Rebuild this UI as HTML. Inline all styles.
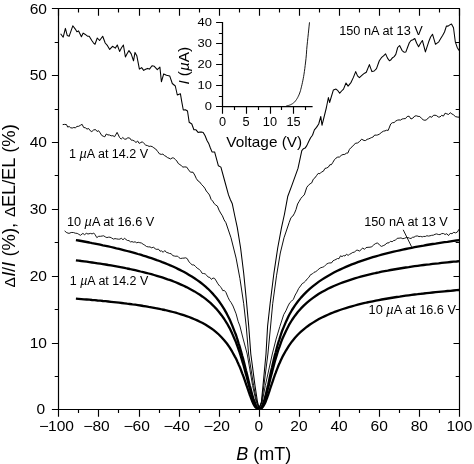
<!DOCTYPE html>
<html lang="en"><head><meta charset="utf-8"><title>Magnetic field effect chart</title>
<style>html,body{margin:0;padding:0;background:#fff;overflow:hidden}svg{display:block}</style></head>
<body>
<svg width="474" height="464" viewBox="0 0 474 464">
<rect x="0" y="0" width="474" height="464" fill="#fff"/>
<g fill="none" stroke="#000" stroke-linejoin="round" stroke-linecap="butt">
<path d="M60.6,33.7 L63.2,37.2 L65.4,28.4 L67.2,35.4 L69.2,36.2 L72.8,25.8 L75.3,29.1 L76.9,31.8 L78.6,30.9 L81.4,36.7 L83.2,33.1 L84.9,34.2 L87.5,36.2 L89.2,36.2 L91.8,40.5 L93.4,42.8 L95.0,44.3 L97.3,38.0 L99.6,40.5 L102.7,36.2 L105.2,43.0 L107.5,45.7 L109.7,49.4 L112.5,46.3 L115.3,48.1 L117.3,45.0 L119.6,51.4 L121.5,47.8 L123.4,45.0 L125.4,57.0 L127.2,53.6 L129.0,50.6 L131.2,53.9 L133.5,60.8 L135.0,52.4 L136.8,55.7 L139.4,69.1 L141.6,67.6 L143.7,70.4 L145.6,69.2 L147.5,68.4 L149.5,69.1 L152.0,65.8 L154.3,66.3 L157.3,69.6 L159.9,67.1 L161.4,81.8 L163.7,73.9 L166.5,75.2 L169.7,75.9 L172.3,83.5 L175.3,86.0 L177.3,95.0 L180.4,93.7 L181.6,100.8 L183.3,110.0 L185.4,109.7 L187.5,111.0 L189.2,122.3 L191.8,124.0 L193.9,129.8 L196.0,129.8 L198.1,132.4 L199.8,132.1 L201.5,132.1 L203.2,132.4 L205.1,135.8 L207.0,140.5 L208.7,143.4 L210.3,147.7 L212.0,151.9 L214.6,151.9 L218.4,165.8 L220.9,167.1 L224.7,181.0 L228.5,194.9 L230.4,199.8 L232.3,203.8 L234.8,216.0 L237.3,227.7 L240.6,248.0 L243.7,273.3 L246.2,298.6 L248.7,326.0 L250.8,354.0 L255.0,385.6 L257.5,402.0 L259.2,408.2 L261.4,402.0 L263.0,385.6 L266.0,354.0 L267.6,326.0 L270.1,303.7 L273.9,273.3 L277.7,248.0 L281.5,227.7 L284.5,214.0 L287.8,196.2 L291.6,186.1 L298.0,168.4 L301.8,150.6 L303.5,148.7 L305.1,148.1 L306.8,145.6 L308.7,141.5 L310.6,137.8 L312.5,135.2 L314.4,129.9 L316.5,127.4 L318.7,124.0 L320.8,116.5 L322.0,125.3 L326.3,108.0 L328.4,97.5 L329.6,102.5 L333.4,89.9 L336.0,89.1 L337.9,90.7 L339.7,93.2 L341.6,91.0 L343.5,89.1 L346.0,83.0 L348.1,86.1 L351.1,82.3 L353.4,77.4 L355.7,71.6 L357.5,75.9 L359.4,77.6 L361.3,75.9 L363.0,74.4 L364.6,73.2 L366.3,72.2 L369.4,64.6 L371.9,71.6 L374.2,71.0 L376.5,68.6 L379.3,60.8 L381.4,57.7 L383.5,55.9 L385.6,53.9 L387.5,58.1 L389.4,60.8 L391.0,59.7 L392.6,57.7 L394.2,56.6 L395.8,54.4 L397.7,47.5 L399.6,45.6 L402.1,50.6 L404.0,52.2 L405.9,51.9 L407.6,47.2 L409.3,42.8 L411.0,40.5 L412.9,39.7 L414.8,38.5 L416.7,43.3 L418.6,46.8 L420.5,43.2 L422.4,40.5 L425.4,51.9 L428.7,41.8 L430.6,37.0 L432.5,34.2 L435.5,44.3 L437.1,43.1 L438.8,41.8 L440.7,38.6 L442.6,35.4 L444.5,32.0 L446.4,26.1 L448.1,26.1 L449.8,24.9 L451.5,24.0 L453.5,27.8 L455.3,41.8 L457.1,47.2 L459.0,50.6" stroke-width="1.05" stroke="#000"/>
<path d="M62.7,124.6 L64.6,124.4 L66.5,124.6 L67.7,127.1 L69.2,126.5 L70.7,127.8 L72.3,128.0 L73.8,127.5 L75.3,127.8 L77.0,126.4 L78.7,126.3 L80.4,125.3 L82.1,124.3 L83.7,127.5 L85.4,127.8 L87.0,129.1 L88.6,128.5 L90.2,130.7 L91.8,131.6 L93.7,129.9 L95.6,129.6 L97.1,131.5 L98.6,130.7 L100.2,132.9 L101.7,135.4 L103.2,136.2 L104.8,136.8 L106.3,134.0 L107.9,134.9 L109.5,135.0 L111.2,135.8 L112.9,135.7 L114.6,136.7 L117.1,132.4 L119.6,137.5 L121.2,139.1 L122.8,137.5 L124.4,139.0 L126.0,139.2 L127.8,137.8 L129.7,138.0 L131.3,140.2 L132.8,140.2 L134.4,141.1 L136.0,142.5 L137.6,141.0 L139.2,143.4 L140.8,142.5 L142.4,141.8 L144.1,143.6 L145.8,145.2 L147.5,145.6 L149.1,146.4 L150.7,146.2 L152.2,146.6 L153.8,147.8 L155.7,149.0 L157.6,151.4 L159.5,153.9 L161.4,154.4 L162.9,154.1 L164.4,155.5 L166.0,156.4 L167.5,157.6 L169.0,158.2 L170.6,159.0 L172.2,157.9 L173.7,157.9 L175.3,159.5 L176.8,161.0 L178.3,163.5 L179.9,164.6 L181.4,165.7 L182.9,167.1 L184.8,166.9 L186.7,167.1 L188.6,169.9 L190.5,172.2 L193.0,172.2 L194.7,175.0 L196.4,178.7 L198.1,181.0 L199.8,182.1 L201.5,184.5 L203.2,186.1 L204.8,188.2 L206.3,191.0 L207.9,192.9 L209.5,195.0 L211.1,199.4 L212.7,201.1 L214.2,203.6 L215.8,205.0 L217.4,206.1 L219.0,210.1 L220.6,213.0 L222.4,215.8 L224.1,219.9 L225.9,222.7 L231.0,237.8 L236.1,258.1 L239.9,278.4 L243.7,303.7 L246.2,326.0 L248.6,354.0 L253.6,385.6 L256.8,402.0 L259.0,408.2 L261.7,402.0 L263.9,385.6 L267.9,354.0 L270.6,326.0 L272.7,303.7 L276.5,275.8 L280.3,253.0 L284.0,237.8 L289.1,222.7 L291.0,217.6 L292.9,216.0 L294.5,213.2 L296.0,209.5 L297.6,204.0 L299.2,201.3 L300.9,198.4 L302.6,196.4 L304.3,194.9 L306.8,187.3 L308.4,185.3 L310.1,183.8 L311.7,182.9 L313.3,179.2 L314.9,177.9 L316.6,175.5 L318.2,173.4 L319.9,173.7 L321.6,171.9 L323.3,171.3 L325.0,168.4 L326.7,168.0 L328.4,167.1 L329.9,164.7 L331.4,164.7 L332.9,162.3 L334.4,159.8 L335.9,158.2 L337.7,157.1 L339.5,157.0 L341.2,155.4 L343.0,154.5 L344.8,154.4 L346.3,153.2 L347.8,153.1 L349.4,149.5 L350.9,147.7 L352.4,146.6 L354.1,144.5 L355.8,143.2 L357.5,143.0 L359.6,141.5 L361.6,139.2 L364.1,140.5 L365.6,140.5 L367.1,139.3 L368.7,138.9 L370.2,138.2 L371.7,137.5 L373.2,136.9 L374.7,135.0 L376.3,135.2 L377.8,134.9 L379.3,134.2 L381.8,132.2 L383.4,131.2 L385.0,130.9 L386.6,130.2 L388.2,130.4 L390.7,124.0 L392.4,122.7 L394.1,122.6 L395.8,121.0 L397.4,120.2 L399.0,119.9 L400.5,120.1 L402.1,119.0 L403.8,118.7 L405.5,118.6 L407.2,116.5 L409.1,116.2 L411.0,119.0 L412.9,118.1 L414.8,116.0 L416.5,115.8 L418.1,116.4 L419.8,116.5 L421.5,118.4 L423.2,119.8 L424.9,120.3 L426.6,119.8 L428.3,117.9 L430.0,116.5 L431.7,117.3 L433.3,115.4 L435.0,115.2 L436.7,115.7 L438.3,117.0 L440.0,117.0 L441.7,115.3 L443.4,116.1 L445.1,113.2 L446.8,113.8 L448.5,114.5 L450.2,112.7 L451.9,113.9 L453.6,114.9 L455.3,116.5 L457.1,117.0 L459.0,117.2" stroke-width="0.95" stroke="#000"/>
<path d="M64.6,230.9 L66.8,232.7 L69.0,233.4 L71.2,232.5 L73.4,232.5 L75.3,233.2 L77.2,233.4 L78.8,234.3 L80.4,235.3 L82.9,233.4 L84.6,234.7 L86.3,233.3 L88.0,234.0 L90.5,233.4 L92.1,233.9 L93.7,233.0 L95.2,234.8 L96.8,237.6 L98.7,236.3 L100.6,236.3 L102.2,236.0 L103.7,235.8 L105.3,236.9 L106.9,237.6 L108.4,237.2 L110.0,237.2 L111.7,238.0 L113.4,239.1 L115.0,238.6 L116.7,238.9 L118.4,239.2 L119.9,239.1 L121.4,238.2 L123.0,239.9 L124.5,238.2 L126.0,239.5 L127.5,240.5 L129.0,240.6 L130.5,241.9 L132.0,241.6 L133.5,242.2 L135.1,241.8 L136.7,242.8 L138.2,242.3 L139.8,242.7 L141.4,243.0 L143.1,244.2 L144.8,245.2 L146.5,246.5 L148.3,246.9 L150.0,246.9 L151.8,247.9 L153.5,247.0 L155.3,249.0 L156.9,249.4 L158.4,249.1 L160.0,251.2 L161.6,250.9 L163.2,252.3 L164.8,250.5 L166.4,252.4 L168.0,252.8 L169.6,253.5 L171.2,253.7 L172.7,255.6 L174.3,256.0 L175.9,256.3 L177.4,256.0 L179.0,257.7 L180.6,258.5 L182.3,258.2 L184.0,258.1 L185.7,257.8 L187.3,258.7 L188.9,261.8 L190.5,263.2 L192.2,265.0 L193.9,264.9 L195.6,266.5 L197.2,268.2 L198.9,269.1 L200.6,270.8 L202.1,273.3 L203.6,273.5 L205.2,273.9 L206.7,275.3 L208.2,277.1 L209.8,277.4 L211.4,279.4 L213.0,278.0 L214.6,278.4 L216.3,281.0 L217.9,283.8 L219.6,286.0 L221.2,287.5 L222.8,290.7 L224.3,290.4 L225.9,292.3 L228.0,297.3 L229.5,300.4 L231.0,302.4 L233.0,306.0 L236.1,313.8 L238.1,321.3 L239.9,326.0 L243.2,339.0 L247.2,354.0 L252.6,385.6 L256.2,402.0 L259.0,408.2 L260.6,405.2 L262.2,402.0 L265.3,385.6 L272.3,354.0 L276.1,339.0 L279.9,326.4 L283.7,314.7 L285.9,310.8 L288.0,306.0 L289.8,302.7 L291.6,301.1 L293.4,299.3 L295.2,295.0 L296.9,292.1 L298.7,288.4 L300.5,286.0 L302.2,283.6 L303.9,282.6 L305.6,281.0 L307.2,278.9 L308.9,277.3 L310.6,274.6 L312.3,274.0 L314.0,272.3 L315.7,271.7 L317.4,270.4 L319.1,268.8 L320.8,267.7 L322.3,267.3 L323.8,266.8 L325.4,265.2 L326.9,263.9 L328.4,263.2 L329.9,262.9 L331.4,263.0 L333.0,260.8 L334.5,260.1 L336.0,259.4 L337.5,258.5 L339.0,258.7 L340.5,255.8 L342.0,256.6 L343.5,255.6 L345.0,256.0 L346.5,254.2 L348.1,255.4 L349.6,254.3 L351.1,253.5 L352.8,252.4 L354.5,252.2 L356.2,250.3 L357.9,250.2 L359.6,251.2 L361.3,249.2 L362.9,248.0 L364.4,249.4 L366.0,247.6 L368.0,247.3 L370.0,247.2 L371.9,246.7 L373.8,244.8 L375.7,243.5 L377.6,242.9 L379.5,245.0 L381.4,246.4 L383.2,245.7 L385.0,244.8 L387.0,243.0 L389.0,242.8 L390.6,241.2 L392.1,241.8 L393.7,240.5 L395.3,240.3 L397.2,238.3 L399.1,238.2 L401.0,237.9 L402.8,238.7 L404.5,238.3 L406.2,237.6 L408.0,237.6 L409.5,238.2 L411.0,238.5 L412.5,237.3 L414.0,237.2 L415.6,236.2 L417.3,235.9 L419.0,236.6 L420.6,236.4 L422.2,236.9 L423.7,236.4 L425.3,236.5 L426.9,235.7 L428.4,236.1 L430.0,235.8 L431.7,235.3 L433.3,235.2 L435.0,234.3 L436.7,233.9 L438.3,234.5 L440.0,234.6 L441.7,233.6 L443.4,233.5 L445.1,234.5 L446.8,233.7 L448.5,235.6 L450.2,233.4 L452.0,233.7 L453.8,232.3 L455.6,232.9 L457.4,232.0 L459.0,229.2" stroke-width="0.9" stroke="#000"/>
<path d="M75.9,240.1 L78.6,240.5 L81.3,241.0 L84.0,241.5 L86.7,242.0 L89.4,242.5 L92.1,243.1 L94.8,243.6 L97.5,244.1 L100.2,244.7 L102.9,245.3 L105.6,245.8 L108.3,246.4 L111.0,247.0 L113.7,247.6 L116.4,248.3 L119.1,248.9 L121.8,249.6 L124.5,250.3 L127.1,251.0 L129.8,251.7 L132.5,252.4 L135.2,253.2 L137.9,254.0 L140.6,254.7 L143.3,255.6 L146.0,256.4 L148.7,257.3 L151.4,258.2 L154.1,259.1 L156.8,260.1 L159.5,261.0 L162.2,262.1 L164.9,263.1 L167.6,264.2 L170.3,265.4 L173.0,266.5 L175.7,267.8 L178.3,269.1 L181.0,270.4 L183.7,271.8 L186.4,273.3 L189.1,274.9 L191.8,276.5 L194.5,278.2 L197.2,280.1 L199.9,282.0 L202.6,284.2 L205.3,286.4 L208.0,288.8 L210.7,291.5 L213.4,294.4 L216.1,297.5 L218.8,301.0 L221.5,304.8 L224.2,309.1 L226.9,313.9 L229.6,319.3 L232.2,325.4 L234.9,332.3 L235.6,334.0 L236.2,335.7 L236.8,337.5 L237.4,339.4 L238.0,341.3 L238.6,343.3 L239.3,345.3 L239.9,347.3 L240.5,349.5 L241.1,351.6 L241.7,353.8 L242.3,356.1 L243.0,358.4 L243.6,360.7 L244.2,363.1 L244.8,365.6 L245.4,368.0 L246.0,370.5 L246.7,373.0 L247.3,375.5 L247.9,378.0 L248.5,380.5 L249.1,383.0 L249.7,385.5 L250.4,387.9 L251.0,390.3 L251.6,392.6 L252.2,394.8 L252.8,396.9 L253.4,398.9 L254.1,400.7 L254.7,402.4 L255.3,404.0 L255.9,405.4 L256.5,406.6 L257.1,407.6 L257.8,408.3 L258.4,408.6 L259.0,408.7 L259.6,408.7 L260.2,408.5 L260.9,408.1 L261.5,407.3 L262.1,406.2 L262.7,404.8 L263.3,403.2 L263.9,401.3 L264.6,399.3 L265.2,397.1 L265.8,394.7 L266.4,392.2 L267.0,389.6 L267.6,386.9 L268.3,384.2 L268.9,381.4 L269.5,378.6 L270.1,375.8 L270.7,373.0 L271.3,370.2 L272.0,367.5 L272.6,364.8 L273.2,362.2 L273.8,359.6 L274.4,357.1 L275.0,354.6 L275.7,352.2 L276.3,349.9 L276.9,347.6 L277.5,345.4 L278.1,343.3 L278.7,341.3 L279.4,339.3 L280.0,337.3 L280.6,335.5 L281.2,333.7 L281.8,331.9 L282.4,330.2 L283.1,328.6 L286.1,321.4 L289.0,315.3 L292.0,310.0 L295.0,305.4 L298.0,301.3 L301.0,297.6 L304.0,294.4 L307.0,291.4 L310.0,288.6 L313.0,286.1 L316.0,283.8 L318.9,281.6 L321.9,279.6 L324.9,277.7 L327.9,275.9 L330.9,274.2 L333.9,272.6 L336.9,271.0 L339.9,269.6 L342.9,268.2 L345.9,266.9 L348.9,265.6 L351.8,264.4 L354.8,263.3 L357.8,262.2 L360.8,261.1 L363.8,260.1 L366.8,259.1 L369.8,258.1 L372.8,257.2 L375.8,256.3 L378.8,255.5 L381.7,254.7 L384.7,253.9 L387.7,253.1 L390.7,252.4 L393.7,251.7 L396.7,251.0 L399.7,250.3 L402.7,249.6 L405.7,249.0 L408.7,248.4 L411.7,247.8 L414.6,247.2 L417.6,246.6 L420.6,246.1 L423.6,245.6 L426.6,245.0 L429.6,244.5 L432.6,244.0 L435.6,243.6 L438.6,243.1 L441.6,242.6 L444.5,242.2 L447.5,241.8 L450.5,241.3 L453.5,240.9 L456.5,240.5 L459.5,240.1" stroke-width="2.3"/>
<path d="M75.9,260.3 L78.6,260.6 L81.3,261.0 L84.0,261.3 L86.7,261.7 L89.4,262.1 L92.1,262.5 L94.8,262.9 L97.5,263.3 L100.2,263.7 L102.9,264.1 L105.6,264.5 L108.3,265.0 L111.0,265.4 L113.7,265.9 L116.4,266.4 L119.1,266.9 L121.8,267.4 L124.5,267.9 L127.1,268.5 L129.8,269.0 L132.5,269.6 L135.2,270.2 L137.9,270.8 L140.6,271.5 L143.3,272.1 L146.0,272.8 L148.7,273.5 L151.4,274.2 L154.1,275.0 L156.8,275.8 L159.5,276.6 L162.2,277.4 L164.9,278.3 L167.6,279.3 L170.3,280.2 L173.0,281.2 L175.7,282.3 L178.3,283.4 L181.0,284.6 L183.7,285.8 L186.4,287.1 L189.1,288.5 L191.8,289.9 L194.5,291.4 L197.2,293.1 L199.9,294.8 L202.6,296.7 L205.3,298.7 L208.0,300.9 L210.7,303.2 L213.4,305.8 L216.1,308.6 L218.8,311.7 L221.5,315.2 L224.2,319.0 L226.9,323.3 L229.6,328.1 L232.2,333.6 L234.9,339.8 L235.6,341.3 L236.2,342.9 L236.8,344.5 L237.4,346.2 L238.0,347.9 L238.6,349.6 L239.3,351.5 L239.9,353.3 L240.5,355.2 L241.1,357.2 L241.7,359.2 L242.3,361.3 L243.0,363.4 L243.6,365.5 L244.2,367.7 L244.8,369.9 L245.4,372.2 L246.0,374.4 L246.7,376.7 L247.3,379.1 L247.9,381.4 L248.5,383.7 L249.1,386.0 L249.7,388.3 L250.4,390.5 L251.0,392.7 L251.6,394.8 L252.2,396.8 L252.8,398.8 L253.4,400.6 L254.1,402.2 L254.7,403.8 L255.3,405.1 L255.9,406.3 L256.5,407.3 L257.1,408.0 L257.8,408.5 L258.4,408.7 L259.0,408.7 L259.6,408.7 L260.2,408.6 L260.9,408.2 L261.5,407.5 L262.1,406.5 L262.7,405.3 L263.3,403.9 L263.9,402.3 L264.6,400.5 L265.2,398.6 L265.8,396.5 L266.4,394.3 L267.0,392.0 L267.6,389.6 L268.3,387.2 L268.9,384.7 L269.5,382.3 L270.1,379.8 L270.7,377.3 L271.3,374.9 L272.0,372.4 L272.6,370.0 L273.2,367.7 L273.8,365.4 L274.4,363.1 L275.0,360.9 L275.7,358.7 L276.3,356.7 L276.9,354.6 L277.5,352.6 L278.1,350.7 L278.7,348.8 L279.4,347.0 L280.0,345.3 L280.6,343.6 L281.2,341.9 L281.8,340.3 L282.4,338.8 L283.1,337.3 L286.1,330.7 L289.0,324.9 L292.0,320.0 L295.0,315.7 L298.0,311.8 L301.0,308.4 L304.0,305.4 L307.0,302.6 L310.0,300.1 L313.0,297.9 L316.0,295.8 L318.9,293.8 L321.9,292.0 L324.9,290.4 L327.9,288.8 L330.9,287.4 L333.9,286.0 L336.9,284.7 L339.9,283.5 L342.9,282.4 L345.9,281.3 L348.9,280.3 L351.8,279.3 L354.8,278.4 L357.8,277.5 L360.8,276.7 L363.8,275.9 L366.8,275.1 L369.8,274.4 L372.8,273.7 L375.8,273.0 L378.8,272.4 L381.7,271.7 L384.7,271.1 L387.7,270.6 L390.7,270.0 L393.7,269.5 L396.7,269.0 L399.7,268.5 L402.7,268.0 L405.7,267.5 L408.7,267.1 L411.7,266.6 L414.6,266.2 L417.6,265.8 L420.6,265.4 L423.6,265.0 L426.6,264.6 L429.6,264.3 L432.6,263.9 L435.6,263.6 L438.6,263.3 L441.6,262.9 L444.5,262.6 L447.5,262.3 L450.5,262.0 L453.5,261.7 L456.5,261.5 L459.5,261.2" stroke-width="2.3"/>
<path d="M75.9,298.7 L78.6,298.9 L81.3,299.1 L84.0,299.3 L86.7,299.5 L89.4,299.7 L92.1,300.0 L94.8,300.2 L97.5,300.5 L100.2,300.7 L102.9,301.0 L105.6,301.2 L108.3,301.5 L111.0,301.8 L113.7,302.1 L116.4,302.4 L119.1,302.7 L121.8,303.0 L124.5,303.3 L127.1,303.7 L129.8,304.0 L132.5,304.4 L135.2,304.7 L137.9,305.1 L140.6,305.5 L143.3,306.0 L146.0,306.4 L148.7,306.9 L151.4,307.3 L154.1,307.8 L156.8,308.3 L159.5,308.9 L162.2,309.5 L164.9,310.0 L167.6,310.7 L170.3,311.3 L173.0,312.0 L175.7,312.7 L178.3,313.5 L181.0,314.3 L183.7,315.2 L186.4,316.1 L189.1,317.0 L191.8,318.1 L194.5,319.2 L197.2,320.4 L199.9,321.7 L202.6,323.0 L205.3,324.5 L208.0,326.2 L210.7,328.0 L213.4,329.9 L216.1,332.1 L218.8,334.5 L221.5,337.2 L224.2,340.2 L226.9,343.5 L229.6,347.3 L232.2,351.7 L234.9,356.6 L235.6,357.8 L236.2,359.0 L236.8,360.3 L237.4,361.7 L238.0,363.0 L238.6,364.4 L239.3,365.9 L239.9,367.3 L240.5,368.8 L241.1,370.4 L241.7,372.0 L242.3,373.6 L243.0,375.3 L243.6,376.9 L244.2,378.7 L244.8,380.4 L245.4,382.2 L246.0,384.0 L246.7,385.8 L247.3,387.6 L247.9,389.4 L248.5,391.2 L249.1,392.9 L249.7,394.7 L250.4,396.4 L251.0,398.1 L251.6,399.7 L252.2,401.2 L252.8,402.6 L253.4,403.9 L254.1,405.1 L254.7,406.2 L255.3,407.0 L255.9,407.7 L256.5,408.2 L257.1,408.5 L257.8,408.7 L258.4,408.7 L259.0,408.7 L259.6,408.7 L260.2,408.7 L260.9,408.6 L261.5,408.3 L262.1,407.8 L262.7,407.1 L263.3,406.3 L263.9,405.2 L264.6,404.0 L265.2,402.7 L265.8,401.2 L266.4,399.6 L267.0,398.0 L267.6,396.3 L268.3,394.5 L268.9,392.7 L269.5,390.8 L270.1,389.0 L270.7,387.1 L271.3,385.3 L272.0,383.4 L272.6,381.6 L273.2,379.8 L273.8,378.0 L274.4,376.3 L275.0,374.5 L275.7,372.9 L276.3,371.2 L276.9,369.6 L277.5,368.1 L278.1,366.5 L278.7,365.0 L279.4,363.6 L280.0,362.2 L280.6,360.8 L281.2,359.5 L281.8,358.2 L282.4,356.9 L283.1,355.7 L286.1,350.3 L289.0,345.6 L292.0,341.4 L295.0,337.8 L298.0,334.5 L301.0,331.7 L304.0,329.1 L307.0,326.7 L310.0,324.5 L313.0,322.6 L316.0,320.7 L318.9,319.1 L321.9,317.5 L324.9,316.1 L327.9,314.7 L330.9,313.4 L333.9,312.2 L336.9,311.1 L339.9,310.0 L342.9,309.0 L345.9,308.1 L348.9,307.2 L351.8,306.3 L354.8,305.5 L357.8,304.7 L360.8,303.9 L363.8,303.2 L366.8,302.5 L369.8,301.9 L372.8,301.3 L375.8,300.7 L378.8,300.1 L381.7,299.5 L384.7,299.0 L387.7,298.5 L390.7,298.0 L393.7,297.5 L396.7,297.0 L399.7,296.6 L402.7,296.1 L405.7,295.7 L408.7,295.3 L411.7,294.9 L414.6,294.5 L417.6,294.2 L420.6,293.8 L423.6,293.5 L426.6,293.1 L429.6,292.8 L432.6,292.5 L435.6,292.2 L438.6,291.9 L441.6,291.6 L444.5,291.3 L447.5,291.0 L450.5,290.8 L453.5,290.5 L456.5,290.2 L459.5,290.0" stroke-width="2.3"/>
<path d="M403.2,229.8 L411.6,246.8" stroke-width="0.9"/>
<rect x="58.5" y="8.5" width="401.0" height="401.0" stroke-width="1.2"/>
<path d="M58.5,8.5 v7.3 M58.5,409.5 v7.3 M78.5,8.5 v4.1 M78.5,409.5 v3.6 M98.5,8.5 v7.3 M98.5,409.5 v7.3 M118.5,8.5 v4.1 M118.5,409.5 v3.6 M139.5,8.5 v7.3 M139.5,409.5 v7.3 M159.5,8.5 v4.1 M159.5,409.5 v3.6 M179.5,8.5 v7.3 M179.5,409.5 v7.3 M199.5,8.5 v4.1 M199.5,409.5 v3.6 M219.5,8.5 v7.3 M219.5,409.5 v7.3 M239.5,8.5 v4.1 M239.5,409.5 v3.6 M259.5,8.5 v7.3 M259.5,409.5 v7.3 M279.5,8.5 v4.1 M279.5,409.5 v3.6 M299.5,8.5 v7.3 M299.5,409.5 v7.3 M319.5,8.5 v4.1 M319.5,409.5 v3.6 M339.5,8.5 v7.3 M339.5,409.5 v7.3 M359.5,8.5 v4.1 M359.5,409.5 v3.6 M379.5,8.5 v7.3 M379.5,409.5 v7.3 M399.5,8.5 v4.1 M399.5,409.5 v3.6 M419.5,8.5 v7.3 M419.5,409.5 v7.3 M439.5,8.5 v4.1 M439.5,409.5 v3.6 M459.5,8.5 v7.3 M459.5,409.5 v7.3 M58.5,409.5 h-6.6 M459.5,409.5 h-6 M58.5,376.5 h-3.8 M459.5,376.5 h-3.8 M58.5,343.5 h-6.6 M459.5,343.5 h-6 M58.5,309.5 h-3.8 M459.5,309.5 h-3.8 M58.5,276.5 h-6.6 M459.5,276.5 h-6 M58.5,242.5 h-3.8 M459.5,242.5 h-3.8 M58.5,209.5 h-6.6 M459.5,209.5 h-6 M58.5,175.5 h-3.8 M459.5,175.5 h-3.8 M58.5,142.5 h-6.6 M459.5,142.5 h-6 M58.5,109.5 h-3.8 M459.5,109.5 h-3.8 M58.5,75.5 h-6.6 M459.5,75.5 h-6 M58.5,42.5 h-3.8 M459.5,42.5 h-3.8 M58.5,8.5 h-6.6 M459.5,8.5 h-6" stroke-width="1.15"/>
<path d="M222.5,22.0 V106.5 H312.6" stroke-width="1.25"/>
<path d="M222.5,106.5 h-6.4 M222.5,96.5 h-3.6 M222.5,85.5 h-6.4 M222.5,75.5 h-3.6 M222.5,64.5 h-6.4 M222.5,54.5 h-3.6 M222.5,43.5 h-6.4 M222.5,33.5 h-3.6 M222.5,22.5 h-6.4 M222.5,106.5 v7.3 M234.5,106.5 v3.4 M246.5,106.5 v7.3 M258.5,106.5 v3.4 M270.5,106.5 v7.3 M281.5,106.5 v3.4 M293.5,106.5 v7.3 M305.5,106.5 v3.4" stroke-width="1.15"/>
<path d="M286.3,105.8 L286.7,105.8 L287.1,105.7 L287.5,105.6 L287.9,105.6 L288.3,105.5 L288.7,105.4 L289.1,105.3 L289.4,105.2 L289.8,105.0 L290.2,104.9 L290.6,104.7 L291.0,104.5 L291.4,104.3 L291.8,104.1 L292.2,103.9 L292.6,103.6 L293.0,103.3 L293.4,103.0 L293.8,102.7 L294.2,102.3 L294.6,102.0 L295.0,101.5 L295.3,101.1 L295.7,100.6 L296.1,100.0 L296.5,99.5 L296.9,98.9 L297.3,98.2 L297.7,97.5 L298.1,96.7 L298.5,95.9 L298.9,95.0 L299.3,94.1 L299.7,93.0 L300.1,91.9 L300.5,90.7 L300.8,89.3 L301.2,87.9 L301.6,86.2 L302.0,84.5 L302.4,82.7 L302.8,80.8 L303.2,78.8 L303.6,76.6 L304.0,74.2 L304.4,71.5 L304.8,68.5 L305.2,65.4 L305.6,62.0 L306.0,58.4 L306.4,54.2 L306.7,49.5 L307.1,45.2 L307.5,41.3 L307.9,37.6 L308.3,33.8 L308.7,30.0 L309.1,26.1 L309.5,22.3" stroke-width="0.9"/>
</g>
<g font-family="'Liberation Sans', Arial, Helvetica, sans-serif" fill="#000">
<text x="36.40" y="413.5" font-size="14" text-anchor="start" textLength="8.65" lengthAdjust="spacingAndGlyphs">0</text>
<text x="29.65" y="347.8" font-size="14" text-anchor="start" textLength="17.30" lengthAdjust="spacingAndGlyphs">10</text>
<text x="29.65" y="280.9" font-size="14" text-anchor="start" textLength="17.30" lengthAdjust="spacingAndGlyphs">20</text>
<text x="29.65" y="214.1" font-size="14" text-anchor="start" textLength="17.30" lengthAdjust="spacingAndGlyphs">30</text>
<text x="29.65" y="147.3" font-size="14" text-anchor="start" textLength="17.30" lengthAdjust="spacingAndGlyphs">40</text>
<text x="29.65" y="80.4" font-size="14" text-anchor="start" textLength="17.30" lengthAdjust="spacingAndGlyphs">50</text>
<text x="29.65" y="13.6" font-size="14" text-anchor="start" textLength="17.30" lengthAdjust="spacingAndGlyphs">60</text>
<text x="38.90" y="430.8" font-size="14" text-anchor="start" textLength="9.6" lengthAdjust="spacingAndGlyphs">−</text>
<text x="48.00" y="430.8" font-size="14" text-anchor="start" textLength="25.95" lengthAdjust="spacingAndGlyphs">100</text>
<text x="83.33" y="430.8" font-size="14" text-anchor="start" textLength="9.6" lengthAdjust="spacingAndGlyphs">−</text>
<text x="92.43" y="430.8" font-size="14" text-anchor="start" textLength="17.30" lengthAdjust="spacingAndGlyphs">80</text>
<text x="123.42" y="430.8" font-size="14" text-anchor="start" textLength="9.6" lengthAdjust="spacingAndGlyphs">−</text>
<text x="132.52" y="430.8" font-size="14" text-anchor="start" textLength="17.30" lengthAdjust="spacingAndGlyphs">60</text>
<text x="163.53" y="430.8" font-size="14" text-anchor="start" textLength="9.6" lengthAdjust="spacingAndGlyphs">−</text>
<text x="172.62" y="430.8" font-size="14" text-anchor="start" textLength="17.30" lengthAdjust="spacingAndGlyphs">40</text>
<text x="203.62" y="430.8" font-size="14" text-anchor="start" textLength="9.6" lengthAdjust="spacingAndGlyphs">−</text>
<text x="212.72" y="430.8" font-size="14" text-anchor="start" textLength="17.30" lengthAdjust="spacingAndGlyphs">20</text>
<text x="254.57" y="430.8" font-size="14" text-anchor="start" textLength="8.65" lengthAdjust="spacingAndGlyphs">0</text>
<text x="290.35" y="430.8" font-size="14" text-anchor="start" textLength="17.30" lengthAdjust="spacingAndGlyphs">20</text>
<text x="330.45" y="430.8" font-size="14" text-anchor="start" textLength="17.30" lengthAdjust="spacingAndGlyphs">40</text>
<text x="370.55" y="430.8" font-size="14" text-anchor="start" textLength="17.30" lengthAdjust="spacingAndGlyphs">60</text>
<text x="410.65" y="430.8" font-size="14" text-anchor="start" textLength="17.30" lengthAdjust="spacingAndGlyphs">80</text>
<text x="446.42" y="430.8" font-size="14" text-anchor="start" textLength="25.95" lengthAdjust="spacingAndGlyphs">100</text>
<text x="236.2" y="459.7" font-size="18"><tspan font-style="italic">B</tspan> (mT)</text>
<text transform="translate(14.8,287.6) rotate(-90)" font-size="18.4"><tspan font-size="15.5">Δ</tspan><tspan font-style="italic" x="10.9">I</tspan><tspan x="15.7">/</tspan><tspan font-style="italic" x="20.7">I</tspan><tspan x="31.1" textLength="28.6" lengthAdjust="spacing">(%)</tspan><tspan x="59.6">,</tspan><tspan x="70.6" font-size="15.5">Δ</tspan><tspan x="80.6" textLength="49.4" lengthAdjust="spacing">EL/EL</tspan><tspan x="134.8" textLength="28.6" lengthAdjust="spacing">(%)</tspan></text>
<text x="204.7" y="109.7" font-size="11.4" text-anchor="start" textLength="7.2" lengthAdjust="spacingAndGlyphs">0</text>
<text x="197.5" y="88.7" font-size="11.4" text-anchor="start" textLength="14.4" lengthAdjust="spacingAndGlyphs">10</text>
<text x="197.5" y="67.7" font-size="11.4" text-anchor="start" textLength="14.4" lengthAdjust="spacingAndGlyphs">20</text>
<text x="197.5" y="46.7" font-size="11.4" text-anchor="start" textLength="14.4" lengthAdjust="spacingAndGlyphs">30</text>
<text x="197.5" y="25.7" font-size="11.4" text-anchor="start" textLength="14.4" lengthAdjust="spacingAndGlyphs">40</text>
<text x="218.9" y="126.3" font-size="12" text-anchor="start" textLength="7.1" lengthAdjust="spacingAndGlyphs">0</text>
<text x="242.6" y="126.3" font-size="12" text-anchor="start" textLength="7.1" lengthAdjust="spacingAndGlyphs">5</text>
<text x="262.8" y="126.3" font-size="12" text-anchor="start" textLength="14.2" lengthAdjust="spacingAndGlyphs">10</text>
<text x="286.5" y="126.3" font-size="12" text-anchor="start" textLength="14.2" lengthAdjust="spacingAndGlyphs">15</text>
<text x="226.3" y="147.0" font-size="15" text-anchor="start" textLength="75.8" lengthAdjust="spacingAndGlyphs">Voltage (V)</text>
<text transform="translate(188.8,84.6) rotate(-90)" font-size="14" textLength="37.6" lengthAdjust="spacingAndGlyphs"><tspan font-style="italic">I</tspan> (<tspan font-style="italic">µ</tspan>A)</text>
<text x="339.2" y="34.6" font-size="12" text-anchor="start" textLength="83.6" lengthAdjust="spacingAndGlyphs">150 nA at 13 V</text>
<text x="364.2" y="225.9" font-size="12" text-anchor="start" textLength="83.6" lengthAdjust="spacingAndGlyphs">150 nA at 13 V</text>
<text x="69.0" y="157.9" font-size="12" textLength="79.2" lengthAdjust="spacingAndGlyphs">1 <tspan font-style="italic">µ</tspan>A at 14.2 V</text>
<text x="69.8" y="285.0" font-size="12" textLength="78.4" lengthAdjust="spacingAndGlyphs">1 <tspan font-style="italic">µ</tspan>A at 14.2 V</text>
<text x="66.9" y="226.0" font-size="12" textLength="87.4" lengthAdjust="spacingAndGlyphs">10 <tspan font-style="italic">µ</tspan>A at 16.6 V</text>
<text x="368.6" y="314.0" font-size="12" textLength="87.4" lengthAdjust="spacingAndGlyphs">10 <tspan font-style="italic">µ</tspan>A at 16.6 V</text>
</g>
</svg>
</body></html>
